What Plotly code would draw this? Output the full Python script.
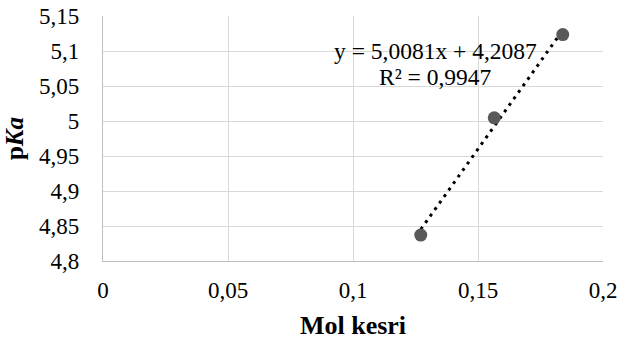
import plotly.graph_objects as go
import numpy as np

# Data
mol_kesri = [0.1271, 0.1565, 0.1839]
pka = [4.837, 5.0045, 5.1235]
slope = 5.0081
intercept = 4.2087
r2 = 0.9947
x_ticks = [0, 0.05, 0.1, 0.15, 0.2]
x_tick_labels = ["0", "0,05", "0,1", "0,15", "0,2"]
y_ticks = [4.8, 4.85, 4.9, 4.95, 5.0, 5.05, 5.1, 5.15]
y_tick_labels = ["4,8", "4,85", "4,9", "4,95", "5", "5,05", "5,1", "5,15"]

FONT = "Liberation Serif"

trend_x = np.array([min(mol_kesri), max(mol_kesri)])
trend_y = slope * trend_x + intercept

fig = go.Figure()
fig.add_trace(go.Scatter(
    x=trend_x, y=trend_y, mode="lines",
    line=dict(color="black", width=3, dash="3px,5px"),
    hoverinfo="skip", showlegend=False,
))
fig.add_trace(go.Scatter(
    x=mol_kesri, y=pka, mode="markers",
    marker=dict(color="#595959", size=13),
    showlegend=False,
))

eq_text = "y = " + f"{slope:.4f}".replace(".", ",") + "x + " + f"{intercept:.4f}".replace(".", ",")
r2_text = "R² = " + f"{r2:.4f}".replace(".", ",")
fig.add_annotation(x=0.1328, y=5.0995, text=eq_text, showarrow=False,
                   xanchor="center", yanchor="middle",
                   font=dict(family=FONT, size=23.5, color="black"))
fig.add_annotation(x=0.1328, y=5.0625, text=r2_text, showarrow=False,
                   xanchor="center", yanchor="middle",
                   font=dict(family=FONT, size=23.5, color="black"))

tickfont = dict(family=FONT, size=23, color="black")

fig.update_layout(
    template="none",
    width=619, height=341,
    margin=dict(l=103, r=16, t=16, b=80),
    paper_bgcolor="white", plot_bgcolor="white",
    font=dict(family=FONT, size=23, color="black"),
    xaxis=dict(
        range=[0, 0.2], tickmode="array", tickvals=x_ticks, ticktext=x_tick_labels,
        tickfont=tickfont,
        showgrid=True, gridcolor="#d9d9d9", gridwidth=1.3,
        showline=True, linecolor="#bfbfbf", linewidth=1.3,
        zeroline=False, mirror=False,
        ticks="outside", ticklen=8, tickcolor="rgba(0,0,0,0)",
        title=dict(text="<b>Mol kesri</b>", font=dict(family=FONT, size=26, color="black"), standoff=14),
        automargin=False,
    ),
    yaxis=dict(
        range=[4.8, 5.15], tickmode="array", tickvals=y_ticks, ticktext=y_tick_labels,
        tickfont=tickfont,
        showgrid=True, gridcolor="#d9d9d9", gridwidth=1.3,
        showline=True, linecolor="#bfbfbf", linewidth=1.3,
        zeroline=False,
        ticks="outside", ticklen=18, tickcolor="rgba(0,0,0,0)",
        title=dict(text="<b>p<i>Ka</i></b>", font=dict(family=FONT, size=25, color="black"), standoff=8),
        automargin=False,
    ),
)

fig.write_html("out.html", config={"displayModeBar": False},
               post_script="document.body.style.margin='0';")
